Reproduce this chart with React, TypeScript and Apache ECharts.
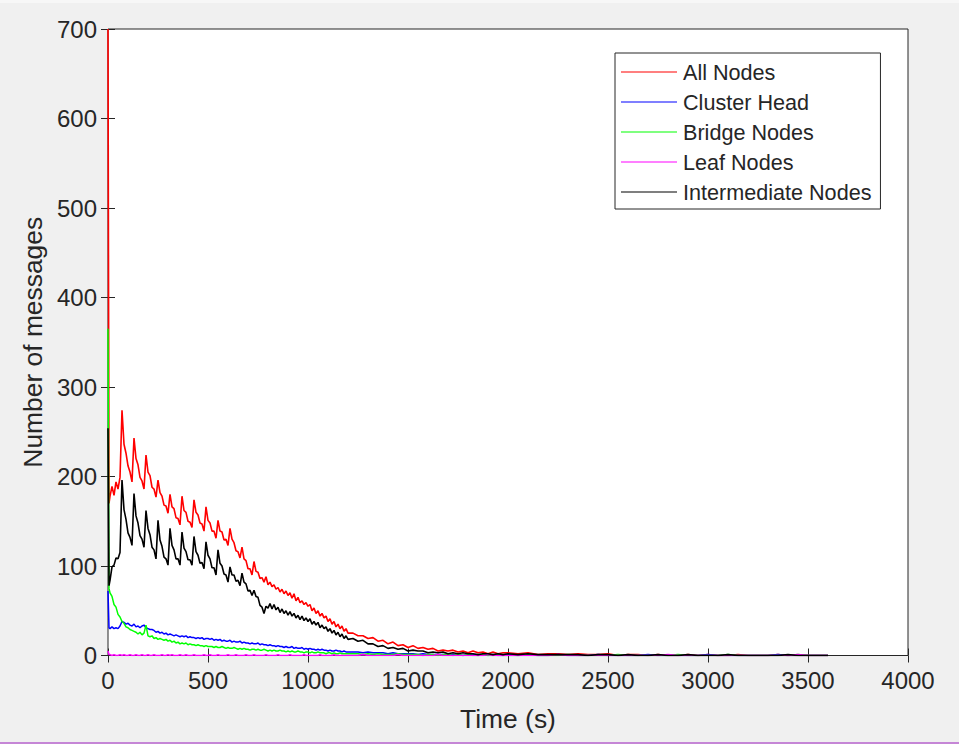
import React, { useEffect, useRef } from "react";
import * as echarts from "echarts";

// Sampling instants (s): dense while traffic is high, sparser in the tail.
function span(from: number, to: number, step: number): number[] {
  const out: number[] = [];
  for (let t = from; t <= to; t += step) out.push(t);
  return out;
}
const timeSec: number[] = [0, 5, ...span(10, 1200, 10), ...span(1225, 2000, 25), ...span(2050, 3600, 50)];

const seriesNames = ["All Nodes", "Cluster Head", "Bridge Nodes", "Leaf Nodes", "Intermediate Nodes"];
const seriesColors = ["#ff0000", "#0000ff", "#00ff00", "#ff00ff", "#000000"];

const xTicks = [0, 500, 1000, 1500, 2000, 2500, 3000, 3500, 4000];
const yTicks = [0, 100, 200, 300, 400, 500, 600, 700];

// Messages per sample, t = 0, 5, 10..1200
const allNodesEarly = [
  700, 170,
  178, 189, 179, 194, 186, 199, 274, 236, 226, 212,
  205, 194, 243, 220, 213, 199, 195, 186, 224, 205,
  201, 188, 186, 177, 196, 182, 178, 168, 167, 159,
  180, 166, 164, 154, 153, 146, 178, 162, 160, 150,
  149, 143, 174, 160, 157, 148, 147, 139, 166, 151,
  148, 139, 139, 131, 151, 139, 138, 129, 130, 123,
  142, 130, 126, 117, 116, 109, 121, 108, 106, 97,
  97, 90, 105, 94, 93, 86, 87, 82, 88, 79,
  82, 77, 79, 74, 76, 71, 74, 69, 72, 67,
  70, 64, 69, 61, 65, 59, 61, 57, 59, 55,
  57, 50, 53, 47, 50, 44, 47, 42, 44, 38,
  41, 35, 38, 32, 35, 30, 33, 27, 30, 25,
];
// t = 1225..2000
const allNodesMid = [25, 22, 22, 19, 20, 16, 17, 13, 15, 11, 12, 9, 11, 8, 9, 7, 8, 5, 6, 5, 6, 4, 5, 3, 5, 3, 4, 2, 4, 2, 3, 3];
// t = 2050..3600
const allNodesLate = [2, 3, 1, 2, 2, 1, 2, 1, 1, 2, 0, 1, 1, 0, 1, 0, 0, 1, 0, 1, 0, 0, 1, 0, 0, 0, 1, 0, 0, 0, 0, 0];

const clusterHeadEarly = [
  72, 31,
  30, 32, 30, 31, 30, 33, 38, 37, 35, 36,
  34, 33, 35, 32, 33, 31, 33, 34, 31, 30,
  29, 29, 28, 26, 27, 25, 26, 24, 25, 23,
  24, 23, 22, 23, 22, 21, 22, 21, 22, 20,
  21, 20, 20, 19, 20, 19, 20, 18, 19, 19,
  18, 19, 17, 18, 17, 18, 16, 17, 16, 16,
  17, 15, 16, 15, 15, 16, 14, 15, 14, 14,
  13, 14, 13, 13, 14, 12, 13, 12, 12, 11,
  12, 11, 11, 10, 11, 10, 10, 9, 10, 9,
  9, 10, 8, 9, 8, 8, 9, 7, 8, 7,
  8, 7, 7, 6, 7, 6, 7, 6, 6, 5,
  6, 5, 5, 6, 5, 5, 4, 5, 4, 4,
];
const clusterHeadMid = [4, 4, 3, 4, 3, 3, 3, 2, 3, 2, 2, 2, 2, 1, 2, 1, 1, 1, 1, 1, 1, 1, 0, 1, 1, 0, 1, 0, 1, 0, 0, 1];
const clusterHeadLate = [0, 1, 0, 0, 1, 0, 0, 0, 1, 0, 0, 0, 0, 1, 0, 0, 0, 0, 0, 1, 0, 0, 0, 0, 0, 0, 1, 0, 0, 0, 0, 0];

const bridgeEarly = [
  365, 75,
  70, 66, 57, 54, 46, 43, 38, 36, 32, 31,
  29, 28, 27, 26, 24, 26, 23, 25, 34, 22,
  21, 22, 19, 20, 18, 19, 18, 17, 18, 16,
  17, 15, 16, 14, 15, 13, 14, 13, 14, 12,
  13, 12, 12, 11, 12, 11, 11, 10, 11, 10,
  10, 10, 9, 10, 9, 9, 10, 9, 8, 9,
  8, 8, 9, 8, 7, 8, 7, 8, 7, 7,
  6, 7, 7, 6, 7, 6, 6, 7, 6, 5,
  6, 5, 6, 5, 5, 6, 5, 5, 4, 5,
  4, 5, 4, 4, 5, 4, 4, 3, 4, 4,
  3, 4, 3, 3, 4, 3, 3, 3, 2, 3,
  3, 2, 3, 2, 2, 3, 2, 2, 2, 2,
];
const bridgeMid = [2, 2, 1, 2, 1, 2, 1, 1, 1, 2, 1, 1, 1, 1, 0, 1, 1, 0, 1, 1, 0, 1, 0, 1, 0, 0, 1, 0, 0, 1, 0, 0];
const bridgeLate = [0, 1, 0, 0, 0, 1, 0, 0, 0, 0, 1, 0, 0, 0, 0, 0, 1, 0, 0, 0, 0, 1, 0, 0, 0, 0, 0, 0, 1, 0, 0, 0];

const leafEarly = [
  5, 1,
  1, 0, 1, 0, 0, 1, 0, 1, 0, 0,
  1, 0, 0, 1, 0, 0, 1, 0, 0, 1,
  0, 0, 1, 0, 0, 0, 1, 0, 0, 1,
  0, 1, 0, 0, 0, 1, 0, 0, 1, 0,
  0, 0, 1, 0, 0, 0, 0, 1, 0, 0,
  1, 0, 0, 0, 1, 0, 0, 0, 0, 1,
  0, 0, 0, 1, 0, 0, 0, 0, 1, 0,
  0, 0, 1, 0, 0, 0, 0, 0, 1, 0,
  0, 0, 0, 0, 1, 0, 0, 0, 0, 0,
  1, 0, 0, 0, 0, 0, 0, 1, 0, 0,
  0, 0, 0, 0, 0, 1, 0, 0, 0, 0,
  0, 0, 1, 0, 0, 0, 0, 0, 0, 0,
];
const leafMid = [0, 0, 1, 0, 0, 0, 0, 0, 0, 1, 0, 0, 0, 0, 0, 0, 0, 1, 0, 0, 0, 0, 0, 0, 0, 0, 0, 1, 0, 0, 0, 0];
const leafLate = [0, 0, 0, 0, 1, 0, 0, 0, 0, 0, 0, 0, 0, 0, 0, 1, 0, 0, 0, 0, 0, 0, 0, 0, 0, 0, 0, 0, 1, 0, 0, 0];

const intermediateEarly = [
  254, 78,
  84, 99, 101, 109, 108, 115, 196, 163, 152, 137,
  132, 123, 181, 156, 148, 134, 130, 121, 162, 142,
  135, 121, 118, 108, 151, 129, 122, 110, 108, 101,
  142, 123, 118, 108, 108, 101, 138, 120, 116, 107,
  107, 101, 133, 116, 112, 103, 104, 97, 127, 112,
  108, 98, 98, 90, 118, 103, 100, 91, 90, 82,
  99, 90, 90, 83, 84, 78, 92, 82, 80, 72,
  73, 67, 73, 66, 65, 56, 54, 47, 55, 53,
  58, 52, 57, 51, 54, 48, 52, 47, 50, 45,
  49, 44, 47, 42, 45, 40, 44, 39, 42, 38,
  41, 35, 38, 34, 37, 31, 34, 30, 32, 27,
  30, 25, 28, 23, 26, 21, 24, 19, 22, 18,
];
const intermediateMid = [19, 16, 17, 13, 13, 10, 11, 8, 9, 7, 8, 5, 6, 5, 5, 3, 4, 3, 4, 2, 3, 2, 3, 2, 2, 1, 2, 2, 1, 2, 1, 2];
const intermediateLate = [1, 2, 1, 1, 1, 1, 1, 0, 1, 1, 0, 1, 0, 0, 1, 0, 0, 1, 0, 0, 0, 1, 0, 0, 0, 0, 0, 1, 0, 0, 0, 0];

const allNodes = [...allNodesEarly, ...allNodesMid, ...allNodesLate];
const clusterHead = [...clusterHeadEarly, ...clusterHeadMid, ...clusterHeadLate];
const bridgeNodes = [...bridgeEarly, ...bridgeMid, ...bridgeLate];
const leafNodes = [...leafEarly, ...leafMid, ...leafLate];
const intermediateNodes = [...intermediateEarly, ...intermediateMid, ...intermediateLate];

const seriesValues = [allNodes, clusterHead, bridgeNodes, leafNodes, intermediateNodes];
const seriesWidths = [1.6, 1.5, 1.5, 1.5, 1.6];

const FONT = "'Liberation Sans', Arial, Helvetica, sans-serif";
const INK = "#262626";

export default function App() {
  const ref = useRef<HTMLDivElement>(null);

  useEffect(() => {
    if (!ref.current) return;
    const chart = echarts.init(ref.current, undefined, { renderer: "svg" });

    const tickAxisCommon = {
      axisLine: { show: false },
      axisTick: { show: true, inside: true, length: 7, lineStyle: { color: INK, width: 1 } },
      splitLine: { show: false },
    };
    const plain = (v: number) => String(v);

    chart.setOption({
      animation: false,
      backgroundColor: "#f0f0f0",
      textStyle: { fontFamily: FONT },
      grid: {
        left: 108,
        right: 51,
        top: 29,
        bottom: 88.5,
        show: true,
        backgroundColor: "#ffffff",
        borderColor: INK,
        borderWidth: 1,
        containLabel: false,
      },
      xAxis: [
        {
          type: "value",
          min: xTicks[0],
          max: xTicks[xTicks.length - 1],
          interval: xTicks[1] - xTicks[0],
          position: "bottom",
          ...tickAxisCommon,
          axisLabel: { color: INK, fontSize: 24, fontFamily: FONT, margin: 13, formatter: plain },
          name: "Time (s)",
          nameLocation: "middle",
          nameGap: 50,
          nameTextStyle: { color: INK, fontSize: 26.4, fontFamily: FONT },
        },
        {
          type: "value",
          min: xTicks[0],
          max: xTicks[xTicks.length - 1],
          interval: xTicks[1] - xTicks[0],
          position: "top",
          ...tickAxisCommon,
          axisLabel: { show: false },
        },
      ],
      yAxis: [
        {
          type: "value",
          min: yTicks[0],
          max: yTicks[yTicks.length - 1],
          interval: yTicks[1] - yTicks[0],
          position: "left",
          ...tickAxisCommon,
          axisLabel: { color: INK, fontSize: 24, fontFamily: FONT, margin: 11, formatter: plain },
          name: "Number of messages",
          nameLocation: "middle",
          nameGap: 62,
          nameTextStyle: { color: INK, fontSize: 26.4, fontFamily: FONT },
        },
        {
          type: "value",
          min: yTicks[0],
          max: yTicks[yTicks.length - 1],
          interval: yTicks[1] - yTicks[0],
          position: "right",
          ...tickAxisCommon,
          axisLabel: { show: false },
        },
      ],
      legend: {
        orient: "vertical",
        left: 615,
        top: 53,
        padding: [6, 9, 4, 6],
        icon: "rect",
        itemWidth: 56,
        itemHeight: 1.2,
        itemGap: 4,
        backgroundColor: "#ffffff",
        borderColor: INK,
        borderWidth: 1,
        borderRadius: 0,
        textStyle: { color: INK, fontSize: 21.6, fontFamily: FONT, lineHeight: 26, padding: [0, 0, 0, 1] },
        data: seriesNames,
      },
      graphic: [
        { type: "rect", left: 0, top: 0, shape: { width: 959, height: 3 }, style: { fill: "#f7f7f7" }, silent: true },
        { type: "rect", left: 0, top: 742, shape: { width: 959, height: 2 }, style: { fill: "#c586d6" }, silent: true },
      ],
      series: seriesNames.map((name, i) => ({
        name,
        type: "line",
        xAxisIndex: 0,
        yAxisIndex: 0,
        symbol: "none",
        showSymbol: false,
        smooth: false,
        clip: true,
        lineStyle: { color: seriesColors[i], width: seriesWidths[i] },
        itemStyle: { color: seriesColors[i] },
        data: timeSec.map((t, k) => [t, seriesValues[i][k]]),
      })),
    });

    return () => chart.dispose();
  }, []);

  return (
    <div
      ref={ref}
      style={{ position: "absolute", left: 0, top: 0, width: 959, height: 744 }}
    />
  );
}
